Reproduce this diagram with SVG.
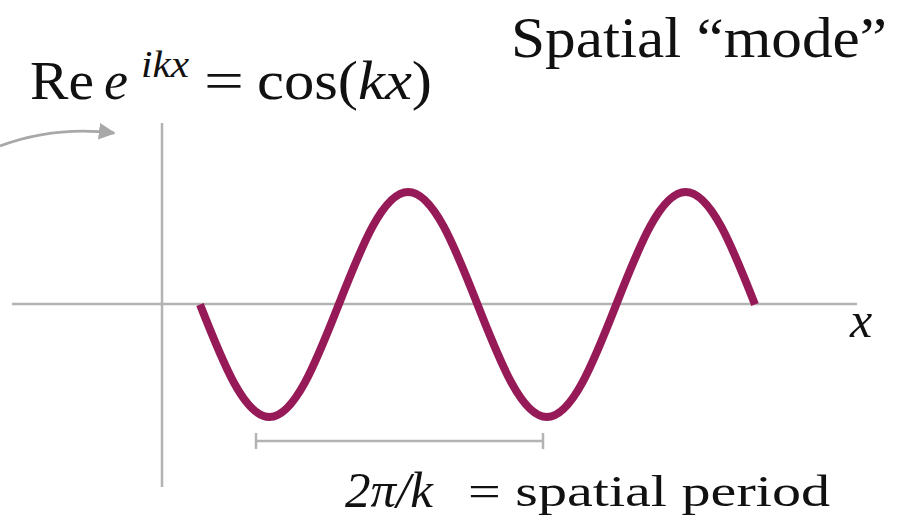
<svg xmlns="http://www.w3.org/2000/svg" width="913" height="517" viewBox="0 0 913 517">
<style>
.axis{stroke:#b3b3b3;stroke-width:2.5;fill:none}
.wave{stroke:#961a57;stroke-width:8;fill:none;stroke-linecap:butt}
.serif{font-family:"Liberation Serif","Times New Roman",serif;fill:#111}
.it{font-style:italic}
</style>
<defs>
<marker id="ah" viewBox="0 0 10 10" refX="9" refY="5" markerWidth="6" markerHeight="6" markerUnits="strokeWidth" orient="auto">
<path d="M0,0 L10,5 L0,10 Z" fill="#a8a8a8"/>
</marker>
</defs>
<g id="connectors">
<path d="M0,146 C35,133 72,128 114,133" stroke="#a8a8a8" stroke-width="2.8" fill="none" marker-end="url(#ah)"/>
</g>
<g id="axes">
<line class="axis" x1="12" y1="304" x2="857" y2="304"/>
<line class="axis" x1="162" y1="123" x2="162" y2="487"/>
</g>
<g id="wave">
<path class="wave" d="M200,304.5 C222.63,362.13 244.27,417 269.375,417 C294.48,417 316.12,362.13 338.75,304.5 C361.38,246.87 383.02,192 408.125,192 C433.23,192 454.87,246.87 477.5,304.5 C500.13,362.13 521.77,417 546.875,417 C571.98,417 593.62,362.13 616.25,304.5 C638.88,246.87 660.52,192 685.625,192 C710.73,192 732.37,246.87 755,304.5"/>
</g>
<g id="period-bracket">
<line class="axis" x1="256" y1="441" x2="543" y2="441"/>
<line class="axis" x1="256" y1="433" x2="256" y2="449"/>
<line class="axis" x1="543" y1="433" x2="543" y2="449"/>
</g>
<g id="formula">
<text class="serif" x="30" y="99" font-size="54" textLength="64" lengthAdjust="spacingAndGlyphs">Re</text>
<text class="serif it" x="104" y="99" font-size="54">e</text>
<text class="serif it" x="141" y="77" font-size="38" textLength="48" lengthAdjust="spacingAndGlyphs">ikx</text>
<text class="serif" x="204" y="99" font-size="54" textLength="40" lengthAdjust="spacingAndGlyphs">=</text>
<text class="serif" x="257" y="99" font-size="54" textLength="175" lengthAdjust="spacingAndGlyphs">cos(<tspan class="it">kx</tspan>)</text>
</g>
<g id="title">
<text class="serif" x="511" y="57" font-size="58" textLength="376" lengthAdjust="spacingAndGlyphs">Spatial “mode”</text>
</g>
<g id="x-label">
<text class="serif it" x="850" y="337" font-size="50">x</text>
</g>
<g id="period-label">
<text class="serif it" x="345" y="507" font-size="50" textLength="88" lengthAdjust="spacingAndGlyphs">2π/k</text>
<text class="serif" x="468" y="506" font-size="44" textLength="362" lengthAdjust="spacingAndGlyphs">= spatial period</text>
</g>
</svg>
